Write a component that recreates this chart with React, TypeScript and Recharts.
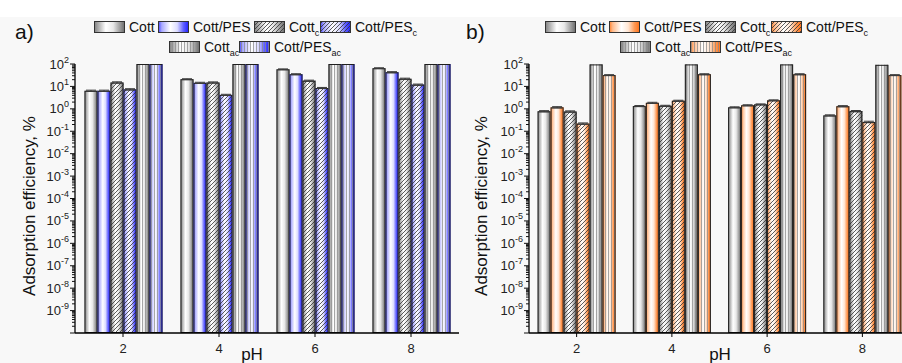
import React from 'react';
import { BarChart, Bar, XAxis, YAxis, ErrorBar } from 'recharts';

const FONT = '"Liberation Sans", Arial, Helvetica, sans-serif';

const categories = ['2', '4', '6', '8'];

// Panel a) – blue series
const aCott = [6.4, 21, 58, 65];
const aCottPES = [6.4, 14.5, 35, 43];
const aCottC = [15, 15, 18, 22];
const aCottPESC = [7.4, 4.2, 8.5, 12];
const aCottAC = [100, 100, 100, 100];
const aCottPESAC = [100, 100, 100, 100];
const aCottErr = [0.4, 1.0, 2.5, 3.0];
const aCottPESErr = [0.4, 0.8, 1.8, 2.5];
const aCottCErr = [1.0, 0.9, 1.0, 1.3];
const aCottPESCErr = [0.5, 0.25, 0.5, 0.7];

// Panel b) – orange series
const bCott = [0.78, 1.33, 1.17, 0.51];
const bCottPES = [1.17, 1.86, 1.44, 1.31];
const bCottC = [0.76, 1.37, 1.58, 0.79];
const bCottPESC = [0.22, 2.3, 2.4, 0.26];
const bCottAC = [96, 96, 96, 92];
const bCottPESAC = [32, 35, 35, 32];
const bCottErr = [0.05, 0.07, 0.06, 0.03];
const bCottPESErr = [0.08, 0.1, 0.08, 0.08];
const bCottCErr = [0.05, 0.07, 0.08, 0.05];
const bCottPESCErr = [0.015, 0.12, 0.12, 0.02];
const bCottPESACErr = [1.5, 1.8, 1.8, 1.5];

// axis ticks
const yExponents = [2, 1, 0, -1, -2, -3, -4, -5, -6, -7, -8, -9, -10];
const minorMultipliers = [2, 3, 4, 5, 6, 7, 8, 9];
const yTicks: number[] = [];
yExponents.forEach((e) => {
  yTicks.push(Math.pow(10, e));
  if (e < 2) minorMultipliers.forEach((m) => yTicks.push(m * Math.pow(10, e)));
});

const legendLabels = [
  { main: 'Cott', sub: '' },
  { main: 'Cott/PES', sub: '' },
  { main: 'Cott', sub: 'c' },
  { main: 'Cott/PES', sub: 'c' },
  { main: 'Cott', sub: 'ac' },
  { main: 'Cott/PES', sub: 'ac' },
];

function buildData(vals: number[][], errs: (number[] | null)[]) {
  return categories.map((ph, i) => {
    const row: any = { ph };
    vals.forEach((v, k) => {
      row['s' + k] = v[i];
      if (errs[k]) row['e' + k] = (errs[k] as number[])[i];
    });
    return row;
  });
}

const dataA = buildData(
  [aCott, aCottPES, aCottC, aCottPESC, aCottAC, aCottPESAC],
  [aCottErr, aCottPESErr, aCottCErr, aCottPESCErr, null, null]
);
const dataB = buildData(
  [bCott, bCottPES, bCottC, bCottPESC, bCottAC, bCottPESAC],
  [bCottErr, bCottPESErr, bCottCErr, bCottPESCErr, null, bCottPESACErr]
);

const seriesStyle = (accent: string) => [
  { grad: 'gGray', pat: null },
  { grad: accent, pat: null },
  { grad: 'gGray', pat: 'hatch' },
  { grad: accent, pat: 'hatch' },
  { grad: 'gGray', pat: 'stripes' },
  { grad: accent, pat: 'stripes' },
];

const makeShape = (grad: string, pat: string | null) => (p: any) => {
  const { x, y, width, height } = p;
  if (!(height > 0) || !(width > 0)) return <g />;
  return (
    <g>
      <rect x={x} y={y} width={width} height={height} fill={`url(#${grad})`} />
      {pat && <rect x={x} y={y} width={width} height={height} fill={`url(#${pat})`} />}
      <rect
        x={x + 0.5}
        y={y + 0.5}
        width={width - 1}
        height={height - 1}
        fill="none"
        stroke="#1e1e1e"
        strokeWidth={1}
      />
    </g>
  );
};

const YTick = (p: any) => {
  const { x, y, payload } = p;
  const v = payload.value;
  const lg = Math.log10(v);
  const e = Math.round(lg);
  const major = Math.abs(lg - e) < 1e-6;
  return (
    <g>
      <line x1={x - (major ? 5 : 3)} x2={x} y1={y} y2={y} stroke="#111" strokeWidth={1} />
      {major && e > -10 && (
        <text x={x - 6} y={y} dy={4.5} textAnchor="end" fontSize={13} fontFamily={FONT} fill="#222">
          10
          <tspan dy={-6} fontSize={9}>
            {String(e)}
          </tspan>
        </text>
      )}
    </g>
  );
};

function Defs() {
  const grad = (id: string, stops: [number, string][]) => (
    <linearGradient id={id} x1="0" y1="0" x2="1" y2="0">
      {stops.map(([o, c], i) => (
        <stop key={i} offset={o} stopColor={c} />
      ))}
    </linearGradient>
  );
  return (
    <svg width={0} height={0} style={{ position: 'absolute' }}>
      <defs>
        {grad('gGray', [
          [0, '#7c7c7c'],
          [0.38, '#ffffff'],
          [0.62, '#e8e8e8'],
          [1, '#656565'],
        ])}
        {grad('gBlue', [
          [0, '#3a3aff'],
          [0.12, '#a8a8ff'],
          [0.4, '#ffffff'],
          [0.62, '#dcdcff'],
          [0.82, '#6060ff'],
          [1, '#1a1aff'],
        ])}
        {grad('gOrange', [
          [0, '#ff7a22'],
          [0.12, '#ffbb8c'],
          [0.4, '#ffffff'],
          [0.62, '#ffe6d4'],
          [0.82, '#ff9a55'],
          [1, '#ff6c12'],
        ])}
        <pattern id="hatch" patternUnits="userSpaceOnUse" width={4} height={4}>
          <path d="M-1,1 l2,-2 M0,4 l4,-4 M3,5 l2,-2" stroke="#333" strokeWidth={0.8} />
        </pattern>
        <pattern id="stripes" patternUnits="userSpaceOnUse" width={3} height={10}>
          <line x1={1.5} y1={0} x2={1.5} y2={10} stroke="#8a8a8a" strokeOpacity={0.75} strokeWidth={1} />
        </pattern>
      </defs>
    </svg>
  );
}

function Panel({ data, accent, left, axisW, chartW, rightM, gap }: any) {
  const styles = seriesStyle(accent);
  return (
    <div style={{ position: 'absolute', left, top: 0, width: 902 - left, height: 363, overflow: 'hidden' }}>
      <BarChart
        width={chartW}
        height={363}
        data={data}
        margin={{ top: 64, right: rightM, bottom: 0, left: 0 }}
        barCategoryGap={gap}
        barGap={0}
      >
        <XAxis
          dataKey="ph"
          height={30}
          tickSize={4}
          tickMargin={7}
          tick={{ fontSize: 13, fill: '#222', fontFamily: FONT }}
          axisLine={{ stroke: '#000', strokeWidth: 1.3 }}
          tickLine={{ stroke: '#000' }}
        />
        <YAxis
          type="number"
          scale="log"
          domain={[1e-10, 100]}
          allowDataOverflow
          ticks={yTicks}
          interval={0}
          width={axisW}
          tickSize={0}
          tickMargin={0}
          tickLine={false}
          tick={<YTick />}
          axisLine={{ stroke: '#000', strokeWidth: 1.3 }}
        />
        {styles.map((s, k) => (
          <Bar
            key={k}
            dataKey={'s' + k}
            isAnimationActive={false}
            shape={makeShape(s.grad, s.pat)}
          >
            {data[0]['e' + k] !== undefined && (
              <ErrorBar dataKey={'e' + k} width={5} strokeWidth={1} stroke="#3a3a3a" direction="y" />
            )}
          </Bar>
        ))}
      </BarChart>
    </div>
  );
}

const legendPos = [
  [94, 21],
  [158, 21],
  [254, 21],
  [320, 21],
  [169, 41],
  [239, 41],
];

function Overlay() {
  const panels = [
    { off: 0, accent: 'gBlue', tag: 'a)', axisTitleX: 35, phX: 252 },
    { off: 451, accent: 'gOrange', tag: 'b)', axisTitleX: 487, phX: 720 },
  ];
  return (
    <svg
      width={902}
      height={363}
      style={{ position: 'absolute', left: 0, top: 0, pointerEvents: 'none' }}
      fontFamily={FONT}
    >
      {panels.map((p, pi) => {
        const styles = seriesStyle(p.accent);
        return (
          <g key={pi}>
            <text x={15 + p.off} y={39} fontSize={21} fill="#111">
              {p.tag}
            </text>
            {legendPos.map(([sx, sy], i) => {
              const x = sx + p.off;
              const s = styles[i];
              return (
                <g key={i}>
                  <rect x={x} y={sy} width={31} height={12} fill={`url(#${s.grad})`} />
                  {s.pat && <rect x={x} y={sy} width={31} height={12} fill={`url(#${s.pat})`} />}
                  <rect x={x + 0.5} y={sy + 0.5} width={30} height={11} fill="none" stroke="#333" strokeWidth={1} />
                  <text x={x + 35} y={sy + 11} fontSize={14} fill="#111">
                    {legendLabels[i].main}
                    {legendLabels[i].sub && (
                      <tspan dy={4} fontSize={9}>
                        {legendLabels[i].sub}
                      </tspan>
                    )}
                  </text>
                </g>
              );
            })}
            <text
              transform={`translate(${p.axisTitleX},206) rotate(-90)`}
              textAnchor="middle"
              fontSize={17}
              fill="#111"
            >
              Adsorption efficiency, %
            </text>
            <text x={p.phX} y={360} textAnchor="middle" fontSize={17} fill="#111">
              pH
            </text>
          </g>
        );
      })}
    </svg>
  );
}

export default function App() {
  return (
    <div
      style={{
        position: 'absolute',
        left: 0,
        top: 0,
        width: 902,
        height: 363,
        overflow: 'hidden',
        background: '#f8f8f8',
        fontFamily: FONT,
      }}
    >
      <Defs />
      <div style={{ position: 'absolute', left: 0, top: 0, width: 902, height: 17, background: '#ffffff' }} />
      <Panel data={dataA} accent="gBlue" left={0} axisW={75} chartW={470} rightM={11} gap={9.5} />
      <Panel data={dataB} accent="gOrange" left={454} axisW={75} chartW={470} rightM={14} gap={8.6} />
      <Overlay />
    </div>
  );
}
